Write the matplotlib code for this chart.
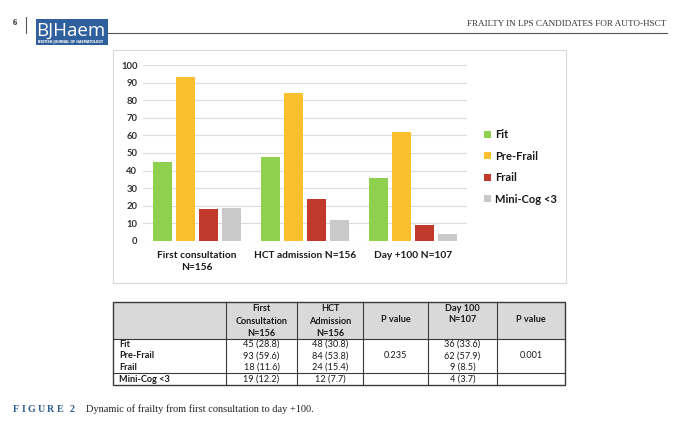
import matplotlib
matplotlib.use("Agg")
import matplotlib.pyplot as plt
from matplotlib.patches import Rectangle

# ---------------- data ----------------
categories = ["First consultation\nN=156", "HCT admission N=156", "Day +100 N=107"]
series_names = ["Fit", "Pre-Frail", "Frail", "Mini-Cog <3"]
fit = [45, 48, 36]
pre_frail = [93, 84, 62]
frail = [18, 24, 9]
mini_cog = [19, 12, 4]
yticks = [0, 10, 20, 30, 40, 50, 60, 70, 80, 90, 100]

# table data
table_headers = ["", "First\nConsultation\nN=156", "HCT\nAdmission\nN=156", "P value", "Day 100\nN=107", "P value"]
row_labels = ["Fit", "Pre-Frail", "Frail", "Mini-Cog <3"]
tbl_first_pct = [28.8, 59.6, 11.6, 12.2]
tbl_hct_pct = [30.8, 53.8, 15.4, 7.7]
tbl_day100_pct = [33.6, 57.9, 8.5, 3.7]
p_values = ["0.235", "0.001"]

header_right = "FRAILTY IN LPS CANDIDATES FOR AUTO-HSCT"
page_number = "6"
caption_label = "FIGURE 2"
caption_text = "Dynamic of frailty from first consultation to day +100."

colors = ["#8FD14F", "#FBC02D", "#C0392B", "#C9C9C9"]

W, H = 680, 421
fig = plt.figure(figsize=(W / 100, H / 100), dpi=100)
fig.patch.set_facecolor("white")

# page overlay axes in pixel coordinates
pg = fig.add_axes([0, 0, 1, 1], zorder=0)
pg.set_xlim(0, W)
pg.set_ylim(H, 0)
pg.axis("off")

# ---- header ----
pg.text(15, 23, page_number, fontsize=6, fontweight="bold", family="Liberation Serif",
        ha="center", va="center", color="#222222")
pg.plot([26, 26], [17, 33], color="#555555", lw=0.8)
pg.add_patch(Rectangle((36, 19), 72, 26, facecolor="#2F5F9C", edgecolor="none"))
pg.text(71, 31, "BJHaem", fontsize=13.5, family="Open Sans", color="white",
        ha="center", va="center")
pg.text(71, 42, "BRITISH JOURNAL OF HAEMATOLOGY", fontsize=2.3, family="DejaVu Sans",
        fontweight="bold", color="white", ha="center", va="center")
pg.plot([108, 667], [33, 33], color="#555555", lw=0.8)
pg.text(666, 24, header_right, fontsize=6.6, family="Liberation Serif",
        ha="right", va="center", color="#333333")

# ---- chart frame ----
pg.add_patch(Rectangle((113, 50), 453, 233, facecolor="none", edgecolor="#D9D9D9", lw=0.8))

# ---- bar chart ----
ax = fig.add_axes([143 / W, 1 - 241 / H, 324 / W, 176 / H], zorder=2)
ax.patch.set_alpha(0)
x = list(range(len(categories)))
step = 0.212
width = 0.176
all_series = [fit, pre_frail, frail, mini_cog]
handles = []
for i, (vals, c, name) in enumerate(zip(all_series, colors, series_names)):
    pos = [xi + (i - 1.5) * step for xi in x]
    b = ax.bar(pos, vals, width=width, color=c, label=name, zorder=3)
    handles.append(b)
ax.set_xlim(-0.5, 2.5)
ax.set_ylim(0, 100)
ax.set_yticks(yticks)
ax.yaxis.grid(True, color="#DCDCDC", lw=0.8, zorder=0)
ax.set_axisbelow(True)
for s in ax.spines.values():
    s.set_visible(False)
ax.tick_params(axis="both", length=0)
ax.tick_params(axis="y", pad=4, labelsize=6.8, labelcolor="#333333")
ax.tick_params(axis="x", pad=7.5)
ax.set_xticks(x)
ax.set_xticklabels(categories, fontsize=7.3, fontweight="bold", family="Lato",
                   color="#1A1A1A", linespacing=1.35)
for lab in ax.get_yticklabels():
    lab.set_fontweight("bold")
    lab.set_family("Lato")

leg = ax.legend(handles=handles, loc="center left", bbox_to_anchor=(484 / W, 1 - 167 / H),
                bbox_transform=fig.transFigure, frameon=False, handlelength=0.6,
                handleheight=0.6, handletextpad=0.4, labelspacing=0.95, borderpad=0,
                borderaxespad=0, prop={"family": "Lato", "weight": "bold", "size": 8})
for t in leg.get_texts():
    t.set_color("#1A1A1A")

# ---- table ----
tl, tr, tt, tb = 113, 565, 302, 385
hb = 339
minicog_top = 373
col_edges = [113, 226, 297, 363, 428, 497, 565]
pg.add_patch(Rectangle((tl, tt), tr - tl, hb - tt, facecolor="#D9D9D9", edgecolor="none"))
pg.add_patch(Rectangle((tl, tt), tr - tl, tb - tt, facecolor="none", edgecolor="#3A3A3A", lw=1.0))
for xe in col_edges[1:-1]:
    pg.plot([xe, xe], [tt, tb], color="#3A3A3A", lw=0.8)
pg.plot([tl, tr], [hb, hb], color="#3A3A3A", lw=0.8)
pg.plot([tl, tr], [minicog_top, minicog_top], color="#3A3A3A", lw=0.8)

centers = [(col_edges[i] + col_edges[i + 1]) / 2 for i in range(len(col_edges) - 1)]
tfont = dict(family="Lato", fontsize=6.6, color="#1A1A1A")
for ci, htxt in enumerate(table_headers):
    if not htxt:
        continue
    lines = htxt.split("\n")
    if len(lines) == 3:
        ys = [308.5, 321, 333.5]
    elif len(lines) == 2:
        ys = [308.5, 319.5]
    else:
        ys = [320]
    for yv, ln in zip(ys, lines):
        pg.text(centers[ci], yv, ln, ha="center", va="center", fontweight="bold", **tfont)

row_y = [344.5, 356, 367.5, 379.5]
first_counts = fit[:1] + pre_frail[:1] + frail[:1] + mini_cog[:1]
hct_counts = fit[1:2] + pre_frail[1:2] + frail[1:2] + mini_cog[1:2]
day_counts = fit[2:3] + pre_frail[2:3] + frail[2:3] + mini_cog[2:3]
for ri, lab in enumerate(row_labels):
    yv = row_y[ri]
    pg.text(119, yv, lab, ha="left", va="center", fontweight="bold", **tfont)
    pg.text(centers[1], yv, f"{first_counts[ri]} ({tbl_first_pct[ri]})", ha="center", va="center", **tfont)
    pg.text(centers[2], yv, f"{hct_counts[ri]} ({tbl_hct_pct[ri]})", ha="center", va="center", **tfont)
    pg.text(centers[4], yv, f"{day_counts[ri]} ({tbl_day100_pct[ri]})", ha="center", va="center", **tfont)
pg.text(centers[3], row_y[1], p_values[0], ha="center", va="center", **tfont)
pg.text(centers[5], row_y[1], p_values[1], ha="center", va="center", **tfont)

# ---- caption ----
renderer = fig.canvas.get_renderer()
cx = 13.0
tracking = 2.3
for ch in caption_label:
    t = pg.text(cx, 409, ch, fontsize=7.2, fontweight="bold", family="Liberation Serif",
                color="#2F5F8F", ha="left", va="center")
    if ch == " ":
        cx += 4.0
    else:
        w = t.get_window_extent(renderer=renderer).width
        cx += w + tracking
pg.text(86, 409, caption_text, fontsize=7.45, family="Liberation Serif", color="#222222",
        ha="left", va="center")

fig.savefig("out.png", dpi=100, facecolor="white")
